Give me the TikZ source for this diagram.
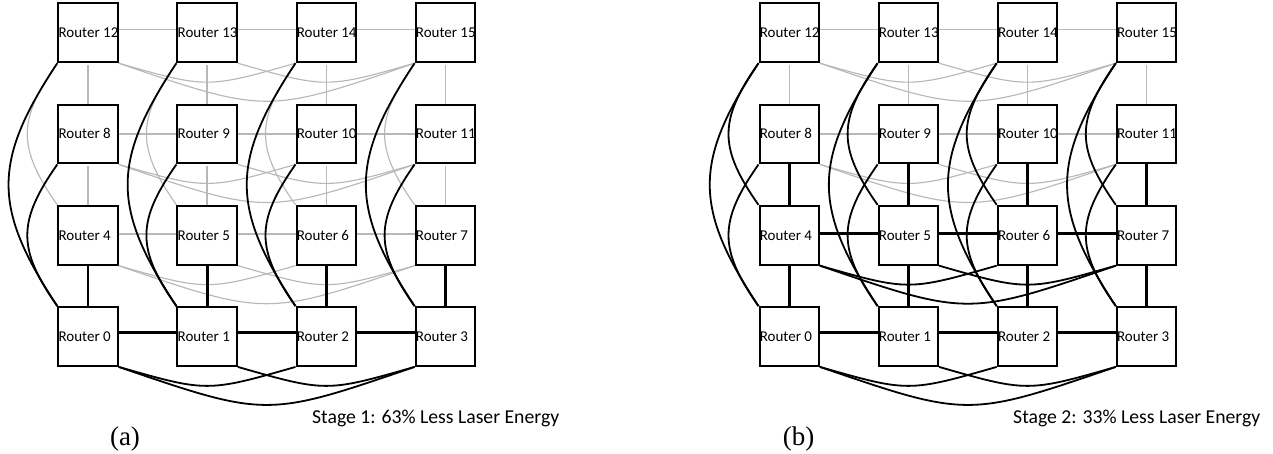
\documentclass[tikz,border=0pt]{standalone}
\usepackage{fontspec}
\setmainfont{Liberation Serif}
\newfontfamily\carlfont{Carlito}
\usetikzlibrary{calc}
\definecolor{lgrey}{RGB}{184,184,184}
\tikzset{
  box/.style={draw=black, line width=2pt, fill=white, minimum width=59.4pt, minimum height=58.8pt, inner sep=0pt, outer sep=1pt},
  rlabel/.style={font=\carlfont\fontsize{15pt}{17pt}\selectfont, anchor=base west, inner sep=0pt},
  stagetxt/.style={font=\carlfont\fontsize{19.7pt}{23pt}\selectfont, anchor=base west, inner sep=0pt},
  captxt/.style={font=\fontsize{27pt}{31pt}\selectfont, anchor=base, inner sep=0pt},
  gln/.style={draw=lgrey, line width=1.3pt},
  gvl/.style={draw=lgrey, line width=1.3pt, shorten <=2pt},
  gcv/.style={draw=lgrey, line width=1.15pt},
  thk/.style={draw=black, line width=2.8pt},
  bcv/.style={draw=black, line width=1.8pt},
  skip/.style={draw=none}
}
% row links: #1 panel, #2 row, #3 straight style, #4 curve style, #5 vertical shift
\newcommand\rowlinks[5]{%
  \foreach \c in {0,1,2}{
    \pgfmathtruncatemacro\ma{4*#2+\c}\pgfmathtruncatemacro\mb{\ma+1}
    \draw[#3] ([yshift=#5]#1\ma.east) -- ([yshift=#5]#1\mb.west);
  }
  \foreach \c/\d/\hh in {0/2/25.3,1/3/25.3,0/3/50.7}{
    \pgfmathtruncatemacro\ma{4*#2+\c}\pgfmathtruncatemacro\mb{4*#2+\d}
    \draw[#4] (#1\ma.south east) .. controls ($(#1\ma.south east)!0.5!(#1\mb.south west)+(0,\hh)$) .. (#1\mb.south west);
  }
}
% column links: #1 panel, #2..#4 straight styles (rows 1-0, 2-1, 3-2), #5..#7 curve styles (3-1, 3-0, 2-0)
\newcommand\collinks[7]{%
  \foreach \c in {0,...,3}{
    \pgfmathtruncatemacro\na{\c}\pgfmathtruncatemacro\nb{4+\c}%
    \pgfmathtruncatemacro\nc{8+\c}\pgfmathtruncatemacro\nd{12+\c}%
    \draw[#2] (#1\nb.south) -- (#1\na.north);
    \draw[#3] (#1\nc.south) -- (#1\nb.north);
    \draw[#4] (#1\nd.south) -- (#1\nc.north);
    \draw[#5] (#1\nd.south west) .. controls +(-40,57) and +(-40,-57) .. (#1\nb.north west);
    \draw[#6] (#1\nd.south west) .. controls +(-65,98) and +(-65,-98) .. (#1\na.north west);
    \draw[#7] (#1\nc.south west) .. controls +(-40,57) and +(-40,-57) .. (#1\na.north west);
  }
}
\begin{document}
\begin{tikzpicture}[x=1pt,y=-1pt]
\useasboundingbox (0,0) rectangle (1273,454);
% routers
\foreach \p/\X in {a/88,b/789.2}{
  \foreach \n in {0,...,15}{
    \pgfmathtruncatemacro\cc{mod(\n,4)}
    \pgfmathtruncatemacro\rr{div(\n,4)}
    \node[box] (\p\n) at ({\X+119.1*\cc},{336.5-101.23*\rr}) {};
    \node[rlabel] (l\p\n) at ([xshift=1.1pt,yshift=-4.9pt]\p\n.west) {Router \n};
  }
}
% grey links first
\rowlinks{a}{1}{gln}{gcv}{1.4pt}
\rowlinks{a}{2}{gln}{gcv}{0pt}
\rowlinks{a}{3}{gln}{gcv}{3pt}
\collinks{a}{skip}{gvl}{gvl}{gcv}{skip}{skip}
\rowlinks{b}{2}{gln}{gcv}{0pt}
\rowlinks{b}{3}{gln}{gcv}{3pt}
\collinks{b}{skip}{skip}{gvl}{skip}{skip}{skip}
% black links
\rowlinks{a}{0}{thk}{bcv}{4.2pt}
\collinks{a}{thk}{skip}{skip}{skip}{bcv}{bcv}
\rowlinks{b}{0}{thk}{bcv}{4.2pt}
\rowlinks{b}{1}{thk}{bcv}{1.5pt}
\collinks{b}{thk}{thk}{skip}{bcv}{bcv}{bcv}
% captions
\node[stagetxt] (sa) at (312,423.3) {Stage 1: 63\% Less Laser Energy};
\node[stagetxt] (sb) at (1013,423.3) {Stage 2: 33\% Less Laser Energy};
\node[captxt] (ca) at (125,445.2) {(a)};
\node[captxt] (cb) at (798.7,445.2) {(b)};
\end{tikzpicture}
\end{document}
